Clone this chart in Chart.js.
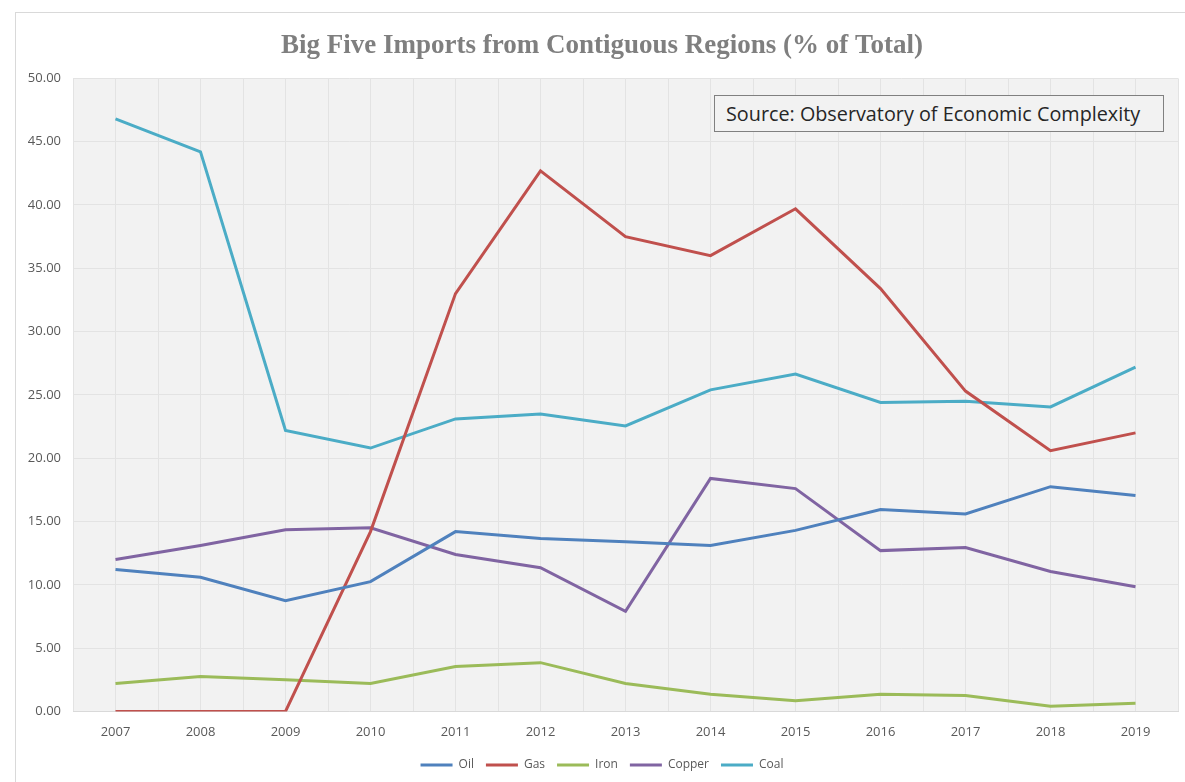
<!DOCTYPE html>
<html lang="en">
  <head>
    <meta charset="UTF-8" />
    <title>Big Five Imports from Contiguous Regions</title>
    <style>
      html, body { margin: 0; padding: 0; background: #fff; overflow: hidden; }
      #frame {
        position: absolute; left: 15px; top: 12px; width: 1182px; height: 780px;
        border: 1px solid #d9d9d9; box-sizing: border-box;
      }
      #chartBox { position: absolute; left: 16px; top: 13px; width: 1180px; height: 769px; }
      #source {
        position: absolute; left: 714px; top: 95px; width: 450px; height: 37px;
        box-sizing: border-box; border: 1.5px solid #808080; background: #f2f2f2;
        font-family: "Open Sans", sans-serif; font-size: 19.8px; color: #262626;
        line-height: 36px; padding-left: 11px; white-space: nowrap;
      }
    </style>
  </head>
  <body>
    <div id="frame"></div>
    <div id="chartBox"><canvas id="lineChart"></canvas></div>
    <div id="source">Source: Observatory of Economic Complexity</div>

    <script src="https://cdn.jsdelivr.net/npm/chart.js@4.4.1/dist/chart.umd.min.js"></script>
    <script>
        // values, % of total
        const years = [2007, 2008, 2009, 2010, 2011, 2012, 2013, 2014, 2015, 2016, 2017, 2018, 2019];
        const oil    = [11.2, 10.6, 8.75, 10.25, 14.2, 13.65, 13.4, 13.1, 14.3, 15.95, 15.6, 17.75, 17.05];
        const gas    = [0, 0, 0, 14.2, 33.0, 42.7, 37.5, 36.0, 39.7, 33.4, 25.3, 20.6, 22.0];
        const iron   = [2.2, 2.75, 2.5, 2.2, 3.55, 3.85, 2.2, 1.35, 0.85, 1.35, 1.25, 0.4, 0.65];
        const copper = [12.0, 13.1, 14.35, 14.5, 12.4, 11.35, 7.9, 18.4, 17.6, 12.7, 12.95, 11.05, 9.85];
        const coal   = [46.8, 44.2, 22.2, 20.8, 23.1, 23.5, 22.55, 25.4, 26.65, 24.4, 24.5, 24.05, 27.2];

        const seriesNames = ['Oil', 'Gas', 'Iron', 'Copper', 'Coal'];
        const seriesData = [oil, gas, iron, copper, coal];
        const seriesColors = ['#4f81bd', '#c0504d', '#9bbb59', '#8064a2', '#4bacc6'];

        const yTicks = [0, 5, 10, 15, 20, 25, 30, 35, 40, 45, 50];

        // grey plot area like the spreadsheet chart
        const plotBg = {
            id: 'plotBg',
            beforeDraw(chart) {
                const a = chart.chartArea;
                const ctx = chart.ctx;
                ctx.save();
                ctx.fillStyle = '#f2f2f2';
                ctx.fillRect(a.left, a.top, a.right - a.left, a.bottom - a.top);
                ctx.restore();
            }
        };

        let datasets = seriesNames.map(function (name, i) {
            return {
                label: name,
                data: years.map(function (y, j) { return { x: y, y: seriesData[i][j] }; }),
                borderColor: seriesColors[i],
                backgroundColor: seriesColors[i],
                borderWidth: 3,
                pointRadius: 0,
                pointHoverRadius: 0,
                tension: 0,
                pointStyle: 'line'
            };
        });

        let ctx = document.getElementById('lineChart').getContext('2d');
        window.lineChart = new Chart(ctx, {
            type: 'line',
            data: { datasets: datasets },
            plugins: [plotBg],
            options: {
                responsive: true,
                maintainAspectRatio: false,
                animation: false,
                layout: { padding: { left: 10, right: 18, top: 0, bottom: 1 } },
                plugins: {
                    title: {
                        display: true,
                        text: 'Big Five Imports from Contiguous Regions (% of Total)',
                        color: '#7f7f7f',
                        font: { family: '"Liberation Serif", serif', size: 27, weight: 'bold' },
                        padding: { top: 17, bottom: 16 }
                    },
                    legend: {
                        position: 'bottom',
                        labels: {
                            usePointStyle: true,
                            pointStyleWidth: 32,
                            boxHeight: 12,
                            padding: 12,
                            color: '#595959',
                            font: { family: '"Open Sans", sans-serif', size: 12 }
                        }
                    },
                    tooltip: { enabled: false }
                },
                scales: {
                    x: {
                        type: 'linear',
                        min: years[0] - 0.5,
                        max: years[years.length - 1] + 0.5,
                        grid: { color: '#e3e3e3', drawTicks: false },
                        border: { display: true, color: '#d9d9d9' },
                        afterFit: function (scale) { scale.height -= 6; },
                        ticks: {
                            stepSize: 0.5,
                            autoSkip: false,
                            maxRotation: 0,
                            padding: 13,
                            color: '#595959',
                            font: { family: '"Open Sans", sans-serif', size: 13 },
                            callback: function (v) { return Number.isInteger(v) ? String(v) : ''; }
                        }
                    },
                    y: {
                        min: yTicks[0],
                        max: yTicks[yTicks.length - 1],
                        grid: { color: '#e3e3e3', drawTicks: false },
                        border: { display: false },
                        afterFit: function (scale) { scale.width = 47; },
                        ticks: {
                            stepSize: 5,
                            padding: 12,
                            color: '#595959',
                            font: { family: '"Open Sans", sans-serif', size: 13 },
                            callback: function (v) { return v.toFixed(2); }
                        }
                    }
                }
            }
        });
    </script>
  </body>
</html>
